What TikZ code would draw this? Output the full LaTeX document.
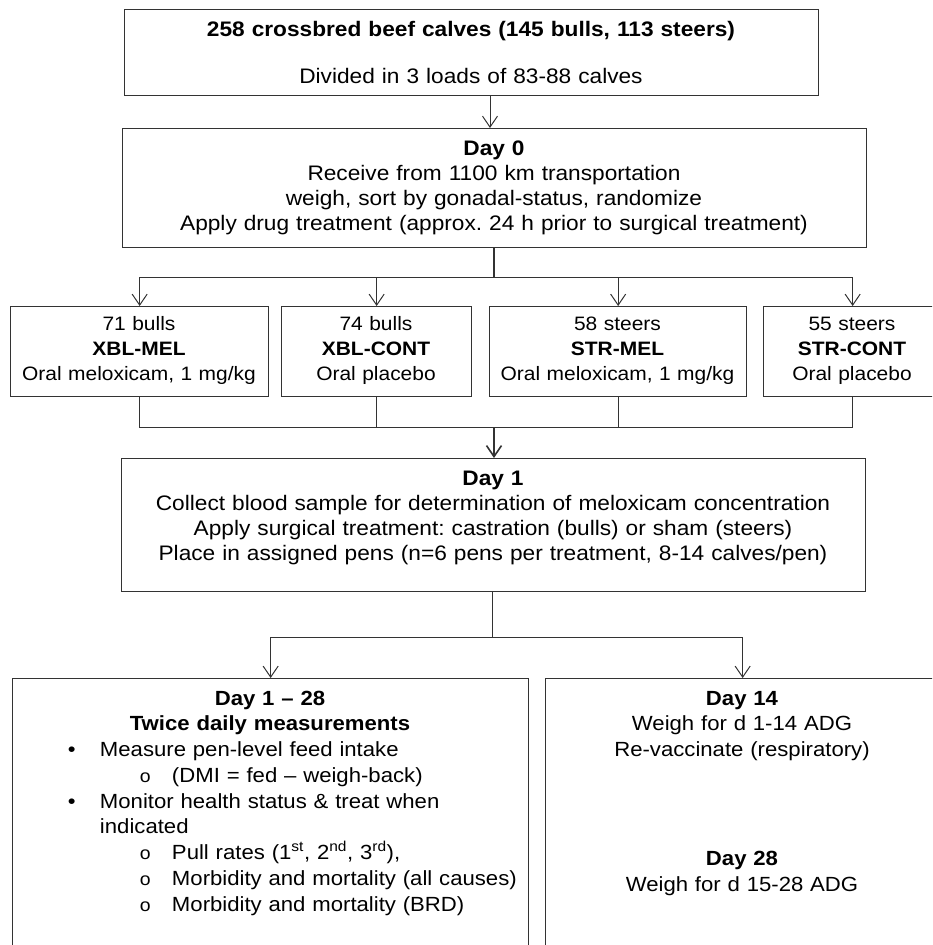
\documentclass[tikz,border=0pt]{standalone}
\usepackage{fontspec}
\setmainfont{Liberation Sans}[FakeStretch=1.08]
\usetikzlibrary{arrows.meta}
\definecolor{linegray}{HTML}{333333}
\frenchspacing
\begin{document}
\begin{tikzpicture}[x=1pt,y=-1pt,
  box/.style={draw=linegray, line width=1.3pt, inner sep=0pt, anchor=north west},
  conn/.style={draw=linegray, line width=1pt},
  trunk/.style={draw=linegray, line width=2pt},
  arr/.style={conn, -{Straight Barb[length=11pt,width=15pt,line width=1pt]}},
  tarr/.style={trunk, -{Straight Barb[length=11pt,width=15pt,line width=1.6pt]}},
  maintext/.style={inner sep=0pt, anchor=base, align=center, font=\fontsize{21}{25}\selectfont},
  grouptext/.style={inner sep=0pt, anchor=base, align=center, font=\fontsize{19.4}{25}\selectfont},
  bottext/.style={inner sep=0pt, anchor=base, font=\fontsize{20.5}{25.75}\selectfont}
]
\useasboundingbox (0,0) rectangle (932,945);
\clip (0,0) rectangle (932,945);

% boxes
\node[box, minimum width=694pt, minimum height=86pt] (top) at (124,9) {};
\node[box, minimum width=744pt, minimum height=119pt] (day0) at (122,128) {};
\node[box, minimum width=258pt, minimum height=90pt] (g1) at (10,306) {};
\node[box, minimum width=190pt, minimum height=90pt] (g2) at (281,306) {};
\node[box, minimum width=257pt, minimum height=90pt] (g3) at (489,306) {};
\node[box, minimum width=178pt, minimum height=90pt] (g4) at (763,306) {};
\node[box, minimum width=744pt, minimum height=133pt] (day1) at (121,458) {};
\node[box, minimum width=516pt, minimum height=300pt] (b1) at (12,678) {};
\node[box, minimum width=394pt, minimum height=300pt] (b2) at (545,678) {};

% texts
\node[maintext, text width=690pt] (toptxt) at (471,36)
  {\textbf{258 crossbred beef calves (145 bulls, 113 steers)}\\[22pt]
   Divided in 3 loads of 83-88 calves};
\node[maintext, text width=740pt] (day0txt) at (494,155)
  {\textbf{Day 0}\\
   Receive from 1100 km transportation\\
   weigh, sort by gonadal-status, randomize\\
   Apply drug treatment (approx. 24 h prior to surgical treatment)};
\node[grouptext, text width=256pt] (g1txt) at (139,330)
  {71 bulls\\ \textbf{XBL-MEL}\\ Oral meloxicam, 1 mg/kg};
\node[grouptext, text width=188pt] (g2txt) at (376,330)
  {74 bulls\\ \textbf{XBL-CONT}\\ Oral placebo};
\node[grouptext, text width=255pt] (g3txt) at (617.5,330)
  {58 steers\\ \textbf{STR-MEL}\\ Oral meloxicam, 1 mg/kg};
\node[grouptext, text width=176pt] (g4txt) at (852,330)
  {55 steers\\ \textbf{STR-CONT}\\ Oral placebo};
\node[maintext, text width=740pt] (day1txt) at (493,485)
  {\textbf{Day 1}\\
   Collect blood sample for determination of meloxicam concentration\\
   Apply surgical treatment: castration (bulls) or sham (steers)\\
   Place in assigned pens (n=6 pens per treatment, 8-14 calves/pen)};
\newcommand{\blt}{\hspace*{56pt}\makebox[32pt][l]{\textbullet}}
\newcommand{\sblt}{\hspace*{128pt}\makebox[32pt][l]{\fontsize{18}{18}\selectfont o}}
\node[bottext, text width=516pt, align=left] (b1txt) at (270,705)
  {\makebox[516pt]{\textbf{Day 1 – 28}}\\
   \makebox[516pt]{\textbf{Twice daily measurements}}\\
   \blt Measure pen-level feed intake\\
   \sblt (DMI = fed – weigh-back)\\
   \blt Monitor health status \& treat when\\
   \hspace*{88pt}indicated\\
   \sblt Pull rates (1\textsuperscript{st}, 2\textsuperscript{nd}, 3\textsuperscript{rd}),\\
   \sblt Morbidity and mortality (all causes)\\
   \sblt Morbidity and mortality (BRD)};
\node[bottext, text width=394pt, align=center] (b2txt) at (742,705)
  {\textbf{Day 14}\\
   Weigh for d 1-14 ADG\\
   Re-vaccinate (respiratory)\\[83pt]
   \textbf{Day 28}\\
   Weigh for d 15-28 ADG};

% connector coordinates
\coordinate (c1) at (490,0);
\coordinate (c2) at (494,0);
\coordinate (bus1) at (0,277);
\coordinate (bus2) at (0,427);
\coordinate (c3) at (492,0);
\coordinate (bus3) at (0,637);

% top -> day0
\draw[arr] (top.south -| c1) -- (day0.north -| c1);
% day0 -> groups
\draw[trunk] (day0.south -| c2) -- (c2 |- bus1);
\draw[conn] (g1.north |- bus1) -- (g4.north |- bus1);
\draw[arr] (g1.north |- bus1) -- (g1.north);
\draw[arr] (g2.north |- bus1) -- (g2.north);
\draw[arr] (g3.north |- bus1) -- (g3.north);
\draw[arr] (g4.north |- bus1) -- (g4.north);
% groups -> day1
\draw[conn] (g1.south) -- (g1.south |- bus2) -- (g4.south |- bus2) -- (g4.south);
\draw[conn] (g2.south) -- (g2.south |- bus2);
\draw[conn] (g3.south) -- (g3.south |- bus2);
\draw[tarr] (c2 |- bus2) -- (day1.north -| c2);
% day1 -> bottom
\draw[conn] (day1.south -| c3) -- (c3 |- bus3);
\draw[conn] (b1.north |- bus3) -- (b2.north |- bus3);
\draw[arr] (b1.north |- bus3) -- (b1.north);
\draw[arr] (b2.north |- bus3) -- (b2.north);
\end{tikzpicture}
\end{document}
